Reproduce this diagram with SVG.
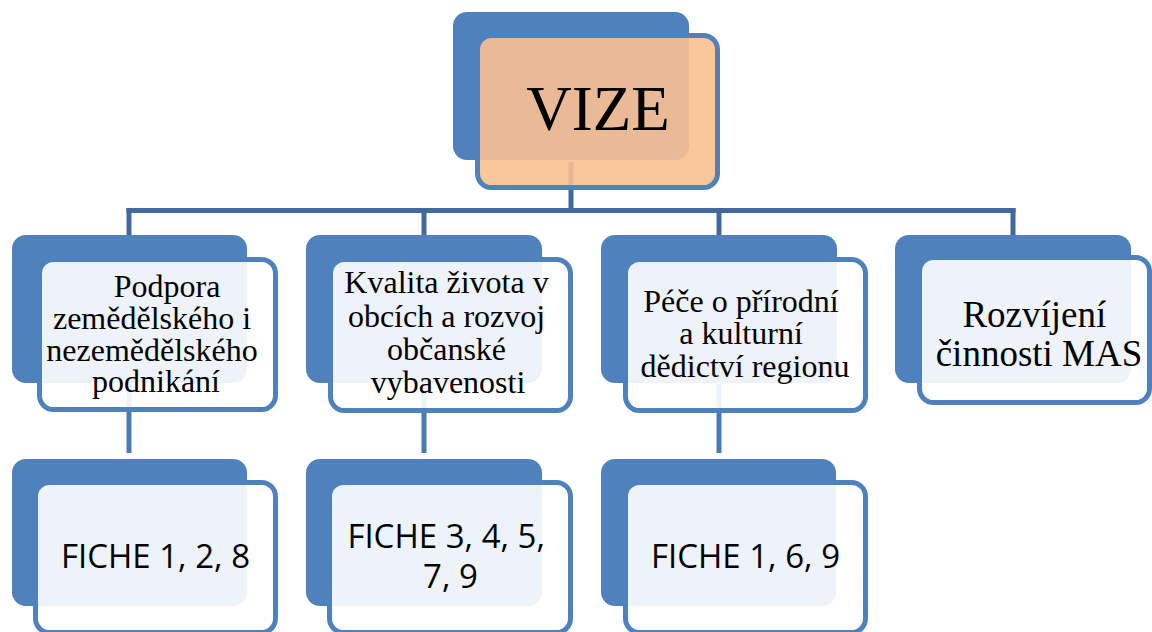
<svg xmlns="http://www.w3.org/2000/svg" width="1152" height="632" viewBox="0 0 1152 632">
  <style>
    .back { fill: #4F81BD; }
    .front { fill: #FFFFFF; fill-opacity: 0.9; stroke: #4F81BD; stroke-width: 5; }
    .frontv { fill: #FAC090; fill-opacity: 0.9; stroke: #4F81BD; stroke-width: 5; }
    .bus { stroke: #41699D; stroke-width: 5; fill: none; }
    .down { stroke: #4A7AB6; stroke-width: 5; fill: none; }
    .serif { font-family: "Liberation Serif", "Times New Roman", serif; fill: #000; text-anchor: middle; }
    .sans { font-family: "Open Sans", "Liberation Sans", sans-serif; fill: #000; text-anchor: middle; font-size: 33px; }
  </style>
  <rect width="1152" height="632" fill="#FFFFFF"/>
  <g id="connectors">
    <line class="bus" x1="571" y1="162" x2="571" y2="210.5"/>
    <line class="bus" x1="126.5" y1="210.5" x2="1015.5" y2="210.5"/>
    <line class="bus" x1="129" y1="208" x2="129" y2="236"/>
    <line class="bus" x1="424" y1="208" x2="424" y2="236"/>
    <line class="bus" x1="719" y1="208" x2="719" y2="236"/>
    <line class="bus" x1="1013" y1="208" x2="1013" y2="236"/>
    <line class="down" x1="129" y1="384" x2="129" y2="453"/>
    <line class="down" x1="424" y1="384" x2="424" y2="453"/>
    <line class="down" x1="719" y1="384" x2="719" y2="453"/>
  </g>
  <g id="vize">
    <rect class="back" x="453" y="12" width="236" height="148" rx="14"/>
    <rect class="frontv" x="477.5" y="35.5" width="240" height="152" rx="14"/>
    <text class="serif" x="598" y="130" font-size="63">VIZE</text>
  </g>
  <g id="podpora">
    <rect class="back" x="12" y="235" width="235" height="148" rx="14"/>
    <rect class="front" x="39.5" y="259.5" width="236" height="150" rx="14"/>
    <text class="serif" font-size="32">
      <tspan x="171" y="297">Podpora</tspan>
      <tspan x="156" y="329">zemědělského i</tspan>
      <tspan x="156" y="361">nezemědělského</tspan>
      <tspan x="156" y="392">podnikání</tspan>
    </text>
  </g>
  <g id="kvalita">
    <rect class="back" x="306" y="235" width="236" height="148" rx="14"/>
    <rect class="front" x="330.5" y="259.5" width="240" height="151" rx="14"/>
    <text class="serif" font-size="32">
      <tspan x="450.5" y="293">Kvalita života v</tspan>
      <tspan x="450.5" y="327">obcích a rozvoj</tspan>
      <tspan x="450.5" y="360">občanské</tspan>
      <tspan x="448" y="393">vybavenosti</tspan>
    </text>
  </g>
  <g id="pece">
    <rect class="back" x="601" y="235" width="236" height="148" rx="14"/>
    <rect class="front" x="625.5" y="259.5" width="240" height="151" rx="14"/>
    <text class="serif" font-size="32">
      <tspan x="745" y="312">Péče o přírodní</tspan>
      <tspan x="745" y="344">a kulturní</tspan>
      <tspan x="745" y="377">dědictví regionu</tspan>
    </text>
  </g>
  <g id="rozvijeni">
    <rect class="back" x="895" y="235" width="236" height="148" rx="14"/>
    <rect class="front" x="919.5" y="257.5" width="230" height="145" rx="14"/>
    <text class="serif" font-size="37">
      <tspan x="1039" y="327">Rozvíjení</tspan>
      <tspan x="1039" y="366">činnosti MAS</tspan>
    </text>
  </g>
  <g id="fiche1">
    <rect class="back" x="12" y="459" width="235" height="147" rx="14"/>
    <rect class="front" x="35.5" y="482.5" width="240" height="150" rx="14"/>
    <text class="sans" x="155.5" y="568">FICHE 1, 2, 8</text>
  </g>
  <g id="fiche2">
    <rect class="back" x="306" y="459" width="236" height="147" rx="14"/>
    <rect class="front" x="329.5" y="482.5" width="241" height="150" rx="14"/>
    <text class="sans">
      <tspan x="450.5" y="548">FICHE 3, 4, 5,</tspan>
      <tspan x="450.5" y="588">7, 9</tspan>
    </text>
  </g>
  <g id="fiche3">
    <rect class="back" x="601" y="459" width="235" height="147" rx="14"/>
    <rect class="front" x="625.5" y="482.5" width="240" height="150" rx="14"/>
    <text class="sans" x="745.5" y="568">FICHE 1, 6, 9</text>
  </g>
</svg>
